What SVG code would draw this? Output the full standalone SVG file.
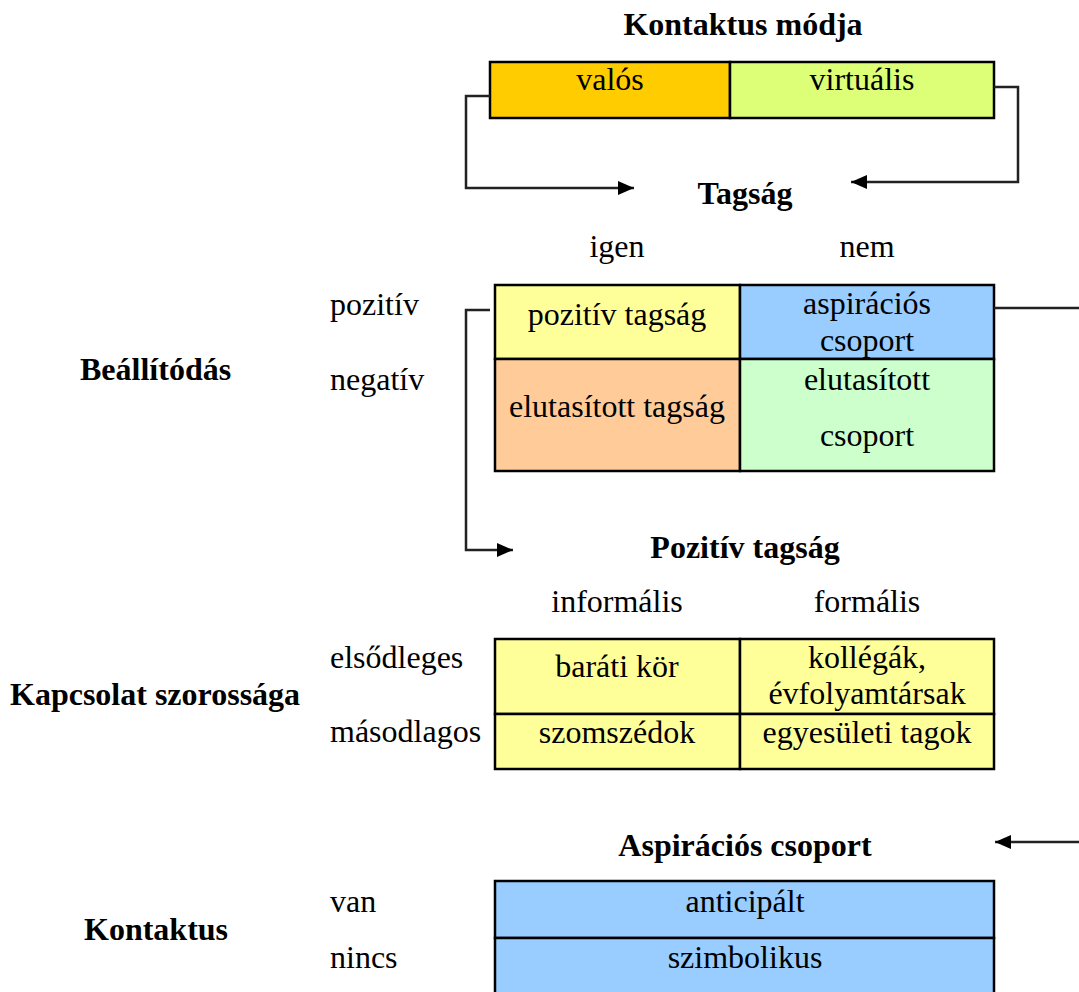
<svg xmlns="http://www.w3.org/2000/svg" width="1079" height="992" viewBox="0 0 1079 992">
  <style>
    text { font-family: "Liberation Serif", "Times New Roman", serif; font-size: 32px; fill: #000; }
    .b { font-weight: bold; }
    .c { text-anchor: middle; }
    .cell { stroke: #000; stroke-width: 2.5; }
    .link { fill: none; stroke: #222; stroke-width: 2.5; }
  </style>
  <defs>
    <marker id="arrow" viewBox="0 0 16 14" markerUnits="userSpaceOnUse" markerWidth="17" markerHeight="14" refX="16" refY="7" orient="auto">
      <path d="M0,0 L16,7 L0,14 z" fill="#000"/>
    </marker>
  </defs>
  <rect x="0" y="0" width="1079" height="992" fill="#fff"/>

  <!-- Kontaktus módja -->
  <g id="kontaktus-modja">
    <text class="b c" x="743" y="35">Kontaktus módja</text>
    <rect class="cell" x="490" y="62" width="240" height="56" fill="#FFCC00"/>
    <rect class="cell" x="730" y="62" width="264" height="56" fill="#DDFF77"/>
    <text class="c" x="610" y="90">valós</text>
    <text class="c" x="862" y="90">virtuális</text>
  </g>

  <!-- Tagság -->
  <g id="tagsag">
    <text class="b c" x="745" y="204">Tagság</text>
    <text class="c" x="617" y="257">igen</text>
    <text class="c" x="867" y="257">nem</text>
    <text x="330" y="315">pozitív</text>
    <text x="330" y="390">negatív</text>
    <text class="b" x="80" y="380">Beállítódás</text>
    <rect class="cell" x="495" y="285" width="245" height="74" fill="#FFFF99"/>
    <rect class="cell" x="740" y="285" width="254" height="74" fill="#99CCFF"/>
    <rect class="cell" x="495" y="359" width="245" height="112" fill="#FFCC99"/>
    <rect class="cell" x="740" y="359" width="254" height="112" fill="#CCFFCC"/>
    <text class="c" x="617" y="325">pozitív tagság</text>
    <text class="c" x="867" y="314">aspirációs</text>
    <text class="c" x="867" y="351">csoport</text>
    <text class="c" x="617" y="417">elutasított tagság</text>
    <text class="c" x="867" y="390">elutasított</text>
    <text class="c" x="867" y="446">csoport</text>
  </g>

  <!-- Pozitív tagság -->
  <g id="pozitiv-tagsag">
    <text class="b c" x="745" y="558">Pozitív tagság</text>
    <text class="c" x="617" y="612">informális</text>
    <text class="c" x="867" y="612">formális</text>
    <text x="330" y="668">elsődleges</text>
    <text x="330" y="742">másodlagos</text>
    <text class="b" x="10" y="705">Kapcsolat szorossága</text>
    <rect class="cell" x="495" y="639" width="245" height="75" fill="#FFFF99"/>
    <rect class="cell" x="740" y="639" width="254" height="75" fill="#FFFF99"/>
    <rect class="cell" x="495" y="714" width="245" height="55" fill="#FFFF99"/>
    <rect class="cell" x="740" y="714" width="254" height="55" fill="#FFFF99"/>
    <text class="c" x="617" y="677">baráti kör</text>
    <text class="c" x="867" y="668">kollégák,</text>
    <text class="c" x="867" y="704">évfolyamtársak</text>
    <text class="c" x="617" y="743">szomszédok</text>
    <text class="c" x="867" y="743">egyesületi tagok</text>
  </g>

  <!-- Aspirációs csoport -->
  <g id="aspiracios-csoport">
    <text class="b c" x="745" y="856">Aspirációs csoport</text>
    <text x="330" y="912">van</text>
    <text x="330" y="968">nincs</text>
    <text class="b" x="84" y="940">Kontaktus</text>
    <rect class="cell" x="495" y="881" width="499" height="57" fill="#99CCFF"/>
    <rect class="cell" x="495" y="938" width="499" height="70" fill="#99CCFF"/>
    <text class="c" x="745" y="912">anticipált</text>
    <text class="c" x="745" y="968">szimbolikus</text>
  </g>

  <!-- connectors -->
  <g id="connectors">
    <polyline class="link" points="490,96 466,96 466,188 634,188" marker-end="url(#arrow)"/>
    <polyline class="link" points="994,87 1018,87 1018,182 851,182" marker-end="url(#arrow)"/>
    <polyline class="link" points="490,310 466,310 466,550 513,550" marker-end="url(#arrow)"/>
    <line class="link" x1="994" y1="308" x2="1079" y2="308"/>
    <line class="link" x1="1079" y1="842" x2="995" y2="842" marker-end="url(#arrow)"/>
  </g>
</svg>
